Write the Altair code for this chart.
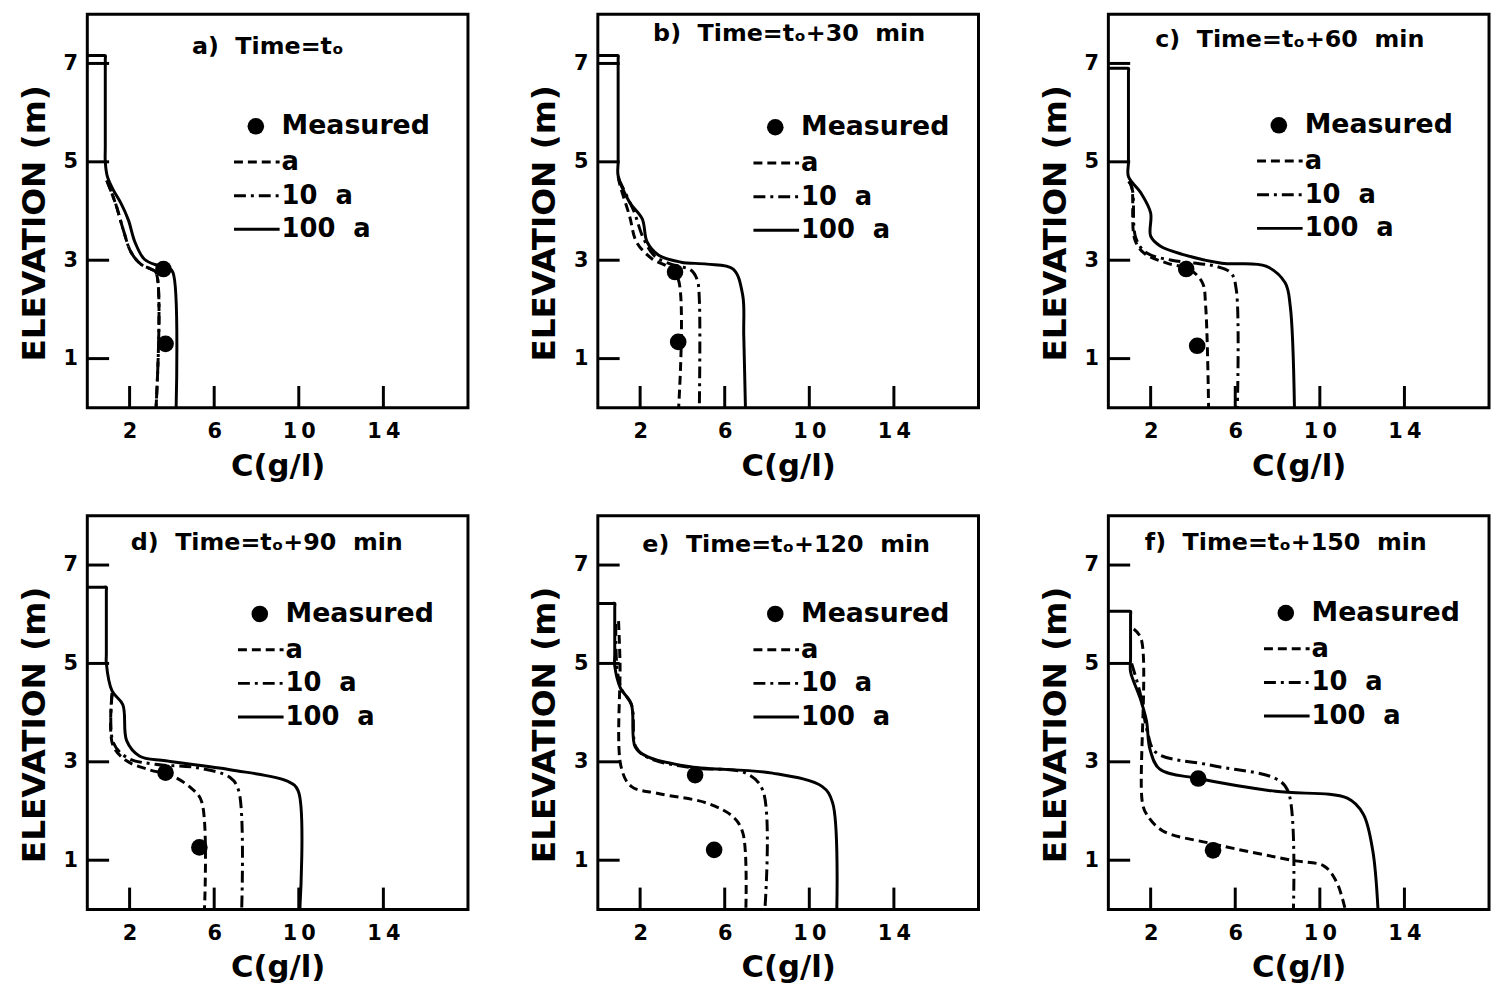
import altair as alt
import pandas as pd

FONT = "DejaVu Sans"
W, H = 384, 397
TICK = 22
X_DOMAIN = [0, 18]
Y_DOMAIN = [0, 8]
x_ticks = [2, 6, 10, 14]
y_ticks = [1, 3, 5, 7]

legend_labels = ["Measured", "a", "10\u00a0\u00a0a", "100\u00a0\u00a0a"]
panel_titles = [
    "a)\u00a0\u00a0Time=t\u2092",
    "b)\u00a0\u00a0Time=t\u2092+30\u00a0\u00a0min",
    "c)\u00a0\u00a0Time=t\u2092+60\u00a0\u00a0min",
    "d)\u00a0\u00a0Time=t\u2092+90\u00a0\u00a0min",
    "e)\u00a0\u00a0Time=t\u2092+120\u00a0\u00a0min",
    "f)\u00a0\u00a0Time=t\u2092+150\u00a0\u00a0min",
]

# ---- panel a (t0)
a_solid_c = [0, 0.75, 0.85, 0.85, 0.85, 0.85, 0.95, 1.24, 1.6, 1.94, 2.26, 2.7, 3.3, 3.8, 4.05, 4.2]
a_solid_z = [7.16, 7.16, 7.16, 7.08, 5.3, 5.0, 4.7, 4.42, 4.15, 3.82, 3.36, 3.02, 2.9, 2.86, 2.75, 0]
a_dash_c = [0.92, 1.33, 1.7, 2.07, 2.53, 3.0, 3.25, 3.25]
a_dash_z = [4.62, 4.16, 3.62, 3.16, 2.92, 2.82, 2.75, 0]
a_dd_c = [0.92, 1.33, 1.7, 2.07, 2.53, 3.0, 3.25, 3.25]
a_dd_z = [4.62, 4.16, 3.62, 3.16, 2.92, 2.82, 2.75, 0]
a_meas_c = [3.6, 3.7]
a_meas_z = [2.82, 1.3]

# ---- panel b (t0+30)
b_solid_c = [0, 0.86, 0.96, 0.96, 0.96, 0.96, 1.5, 2.1, 2.33, 2.88, 3.93, 5.16, 6.4, 6.85, 6.9, 6.98]
b_solid_z = [7.16, 7.16, 7.16, 7.08, 5.0, 4.72, 4.18, 3.84, 3.37, 3.1, 2.96, 2.92, 2.82, 2.29, 1.48, 0]
b_dash_c = [0.96, 1.05, 1.5, 1.83, 2.56, 3.33, 3.8, 3.82]
b_dash_z = [4.7, 4.52, 3.9, 3.37, 3.03, 2.86, 2.62, 0]
b_dd_c = [0.98, 1.7, 2.15, 2.7, 3.6, 4.4, 4.7, 4.8, 4.8]
b_dd_z = [4.65, 4.0, 3.45, 3.08, 2.9, 2.8, 2.6, 2.2, 0]
b_meas_c = [3.65, 3.8]
b_meas_z = [2.76, 1.34]

# ---- panel c (t0+60)
c_solid_c = [0, 0.85, 0.95, 0.95, 0.95, 0.95, 1.55, 2.0, 2.0, 2.45, 3.5, 5.36, 7.45, 8.36, 8.6, 8.8]
c_solid_z = [6.9, 6.9, 6.9, 6.82, 5.0, 4.7, 4.36, 3.96, 3.49, 3.29, 3.12, 2.94, 2.88, 2.54, 2.07, 0]
c_dash_c = [0.95, 1.1, 1.25, 1.7, 2.77, 3.82, 4.45, 4.6, 4.74]
c_dash_z = [4.6, 4.5, 3.42, 3.14, 2.94, 2.82, 2.54, 2.07, 0]
c_dd_c = [1.0, 1.15, 1.3, 1.8, 3.0, 4.3, 5.05, 5.8, 6.05, 6.1]
c_dd_z = [4.6, 4.4, 3.45, 3.15, 3.0, 2.93, 2.88, 2.74, 2.4, 0]
c_meas_c = [3.68, 4.2]
c_meas_z = [2.82, 1.26]

# ---- panel d (t0+90)
d_solid_c = [0, 0.8, 0.9, 0.9, 0.9, 0.9, 1.17, 1.68, 1.86, 2.46, 3.7, 6.75, 9.5, 9.97, 10.05]
d_solid_z = [6.55, 6.55, 6.55, 6.47, 5.2, 5.0, 4.44, 4.16, 3.43, 3.12, 3.02, 2.84, 2.6, 2.41, 0]
d_dash_c = [1.17, 1.2, 1.86, 2.92, 3.98, 4.9, 5.4, 5.54]
d_dash_z = [4.36, 3.35, 3.02, 2.84, 2.72, 2.47, 2.2, 0]
d_dd_c = [1.17, 1.22, 1.9, 3.2, 5.2, 6.75, 7.16, 7.3]
d_dd_z = [4.4, 3.4, 3.08, 2.95, 2.88, 2.68, 2.41, 0]
d_meas_c = [3.7, 5.3]
d_meas_z = [2.78, 1.26]

# ---- panel e (t0+120)
e_solid_c = [0, 0.7, 0.8, 0.8, 0.8, 0.8, 1.07, 1.58, 1.77, 2.37, 4.37, 8.26, 10.6, 11.1, 11.3]
e_solid_z = [6.22, 6.22, 6.22, 6.14, 5.2, 4.95, 4.5, 4.18, 3.3, 3.1, 2.9, 2.77, 2.5, 2.17, 0]
e_dash_c = [0.98, 1.05, 1.1, 1.58, 2.8, 5.16, 6.4, 6.86, 7.0]
e_dash_z = [5.86, 5.0, 2.9, 2.5, 2.36, 2.16, 1.88, 1.55, 0]
e_dd_c = [0.85, 0.9, 1.1, 1.6, 1.8, 2.4, 4.4, 7.0, 7.8, 7.9]
e_dd_z = [5.8, 4.95, 4.5, 4.15, 3.3, 3.08, 2.88, 2.77, 2.42, 0]
e_meas_c = [4.6, 5.5]
e_meas_z = [2.73, 1.21]

# ---- panel f (t0+150)
f_solid_c = [0, 0.95, 1.05, 1.05, 1.05, 1.05, 1.5, 1.8, 1.97, 2.43, 4.25, 7.9, 11.3, 12.05, 12.5, 12.75]
f_solid_z = [6.06, 6.06, 6.06, 5.98, 5.1, 4.83, 4.3, 3.84, 3.25, 2.85, 2.66, 2.4, 2.26, 1.94, 1.2, 0]
f_dash_c = [1.2, 1.55, 1.6, 1.8, 2.56, 4.86, 8.67, 10.2, 10.8, 11.2]
f_dash_z = [5.7, 5.5, 2.2, 1.94, 1.6, 1.34, 1.0, 0.88, 0.55, 0]
f_dd_c = [1.1, 1.5, 1.85, 2.25, 4.86, 7.9, 8.5, 8.75]
f_dd_z = [5.0, 4.4, 3.6, 3.19, 2.93, 2.66, 2.4, 0]
f_meas_c = [4.25, 4.95]
f_meas_z = [2.66, 1.2]

panel_data = [
    (a_solid_c, a_solid_z, a_dash_c, a_dash_z, a_dd_c, a_dd_z, a_meas_c, a_meas_z),
    (b_solid_c, b_solid_z, b_dash_c, b_dash_z, b_dd_c, b_dd_z, b_meas_c, b_meas_z),
    (c_solid_c, c_solid_z, c_dash_c, c_dash_z, c_dd_c, c_dd_z, c_meas_c, c_meas_z),
    (d_solid_c, d_solid_z, d_dash_c, d_dash_z, d_dd_c, d_dd_z, d_meas_c, d_meas_z),
    (e_solid_c, e_solid_z, e_dash_c, e_dash_z, e_dd_c, e_dd_z, e_meas_c, e_meas_z),
    (f_solid_c, f_solid_z, f_dash_c, f_dash_z, f_dd_c, f_dd_z, f_meas_c, f_meas_z),
]

# layout positions (pixels inside each plot area): title centre, legend anchor
title_pos = [(182, 33), (193, 20), (183, 26), (181, 27), (190, 29), (179, 27)]
legend_pos = [(170, 113), (179, 114), (172, 112), (174, 99), (179, 99), (179, 98)]

DASH = [9, 5]
DASHDOT = [12, 5, 3, 5]

xs = alt.Scale(domain=X_DOMAIN, nice=False, zero=False)
ys = alt.Scale(domain=Y_DOMAIN, nice=False, zero=False)
label_expr = "join(split(datum.label, ''), '\u2009')"
ax_x = alt.Axis(values=x_ticks, title="C(g/l)", labelExpr=label_expr)
ax_y = alt.Axis(values=y_ticks, title="ELEVATION (m)", titleY=H / 2 + 12)


def line_layer(cs, zs, dash=None):
    df = pd.DataFrame({"C": cs, "Z": zs, "i": list(range(len(cs)))})
    kw = dict(color="black", strokeWidth=3, clip=True, interpolate="catmull-rom")
    if dash:
        kw["strokeDash"] = dash
    return alt.Chart(df).mark_line(**kw).encode(
        x=alt.X("C:Q", scale=xs, axis=ax_x),
        y=alt.Y("Z:Q", scale=ys, axis=ax_y),
        order=alt.Order("i:Q"),
    )


def make_panel(k):
    sc, sz, dc, dz, ddc, ddz, mc, mz = panel_data[k]
    layers = []
    layers.append(
        alt.Chart(pd.DataFrame({"C": x_ticks})).mark_rule(color="black", strokeWidth=3).encode(
            x=alt.X("C:Q", scale=xs, axis=ax_x), y=alt.value(H), y2=alt.value(H - TICK)
        )
    )
    layers.append(
        alt.Chart(pd.DataFrame({"Z": y_ticks})).mark_rule(color="black", strokeWidth=3).encode(
            y=alt.Y("Z:Q", scale=ys, axis=ax_y), x=alt.value(0), x2=alt.value(TICK)
        )
    )
    layers.append(line_layer(dc, dz, DASH))
    layers.append(line_layer(ddc, ddz, DASHDOT))
    layers.append(line_layer(sc, sz))
    layers.append(
        alt.Chart(pd.DataFrame({"C": mc, "Z": mz})).mark_circle(size=280, color="black", opacity=1).encode(
            x=alt.X("C:Q", scale=xs, axis=ax_x), y=alt.Y("Z:Q", scale=ys, axis=ax_y)
        )
    )
    # title
    tx, ty = title_pos[k]
    layers.append(
        alt.Chart(pd.DataFrame({"t": [panel_titles[k]]})).mark_text(
            font=FONT, fontWeight="bold", fontSize=24, align="center", baseline="middle", color="black"
        ).encode(text="t:N", x=alt.value(tx), y=alt.value(ty))
    )
    # legend
    lx, ly = legend_pos[k]
    layers.append(
        alt.Chart(pd.DataFrame({"t": [legend_labels[0]]})).mark_circle(size=280, color="black", opacity=1).encode(
            x=alt.value(lx), y=alt.value(ly)
        )
    )
    layers.append(
        alt.Chart(pd.DataFrame({"t": [legend_labels[0]]})).mark_text(
            font=FONT, fontWeight="bold", fontSize=27, align="left", baseline="middle", color="black"
        ).encode(text="t:N", x=alt.value(lx + 26), y=alt.value(ly))
    )
    for j, dash in enumerate([DASH, DASHDOT, None]):
        ry = ly + 36 + 34 * j
        kw = dict(color="black", strokeWidth=3)
        if dash:
            kw["strokeDash"] = dash
        layers.append(
            alt.Chart(pd.DataFrame({"t": [legend_labels[j + 1]]})).mark_rule(**kw).encode(
                x=alt.value(lx - 22), x2=alt.value(lx + 24), y=alt.value(ry)
            )
        )
        layers.append(
            alt.Chart(pd.DataFrame({"t": [legend_labels[j + 1]]})).mark_text(
                font=FONT, fontWeight="bold", fontSize=26, align="left", baseline="middle", color="black"
            ).encode(text="t:N", x=alt.value(lx + 26), y=alt.value(ry))
        )
    return alt.layer(*layers).properties(width=W, height=H)


row1 = alt.hconcat(make_panel(0), make_panel(1), make_panel(2), spacing=57)
row2 = alt.hconcat(make_panel(3), make_panel(4), make_panel(5), spacing=57)
chart = (
    alt.vconcat(row1, row2, spacing=31)
    .properties(padding={"left": 8, "top": 0, "right": 0, "bottom": 0}, background="white")
    .configure_view(stroke="black", strokeWidth=3)
    .configure_axis(
        domain=False,
        ticks=False,
        grid=False,
        labelFont=FONT,
        labelFontWeight="bold",
        labelFontSize=21,
        labelColor="black",
        labelPadding=13,
        titleFont=FONT,
        titleFontWeight="bold",
        titleColor="black",
    )
    .configure_axisX(titleFontSize=31, titlePadding=10)
    .configure_axisY(titleFontSize=33, titlePadding=12, labelPadding=10)
)

chart.save("out.html", embed_options={"renderer": "svg", "actions": False})
